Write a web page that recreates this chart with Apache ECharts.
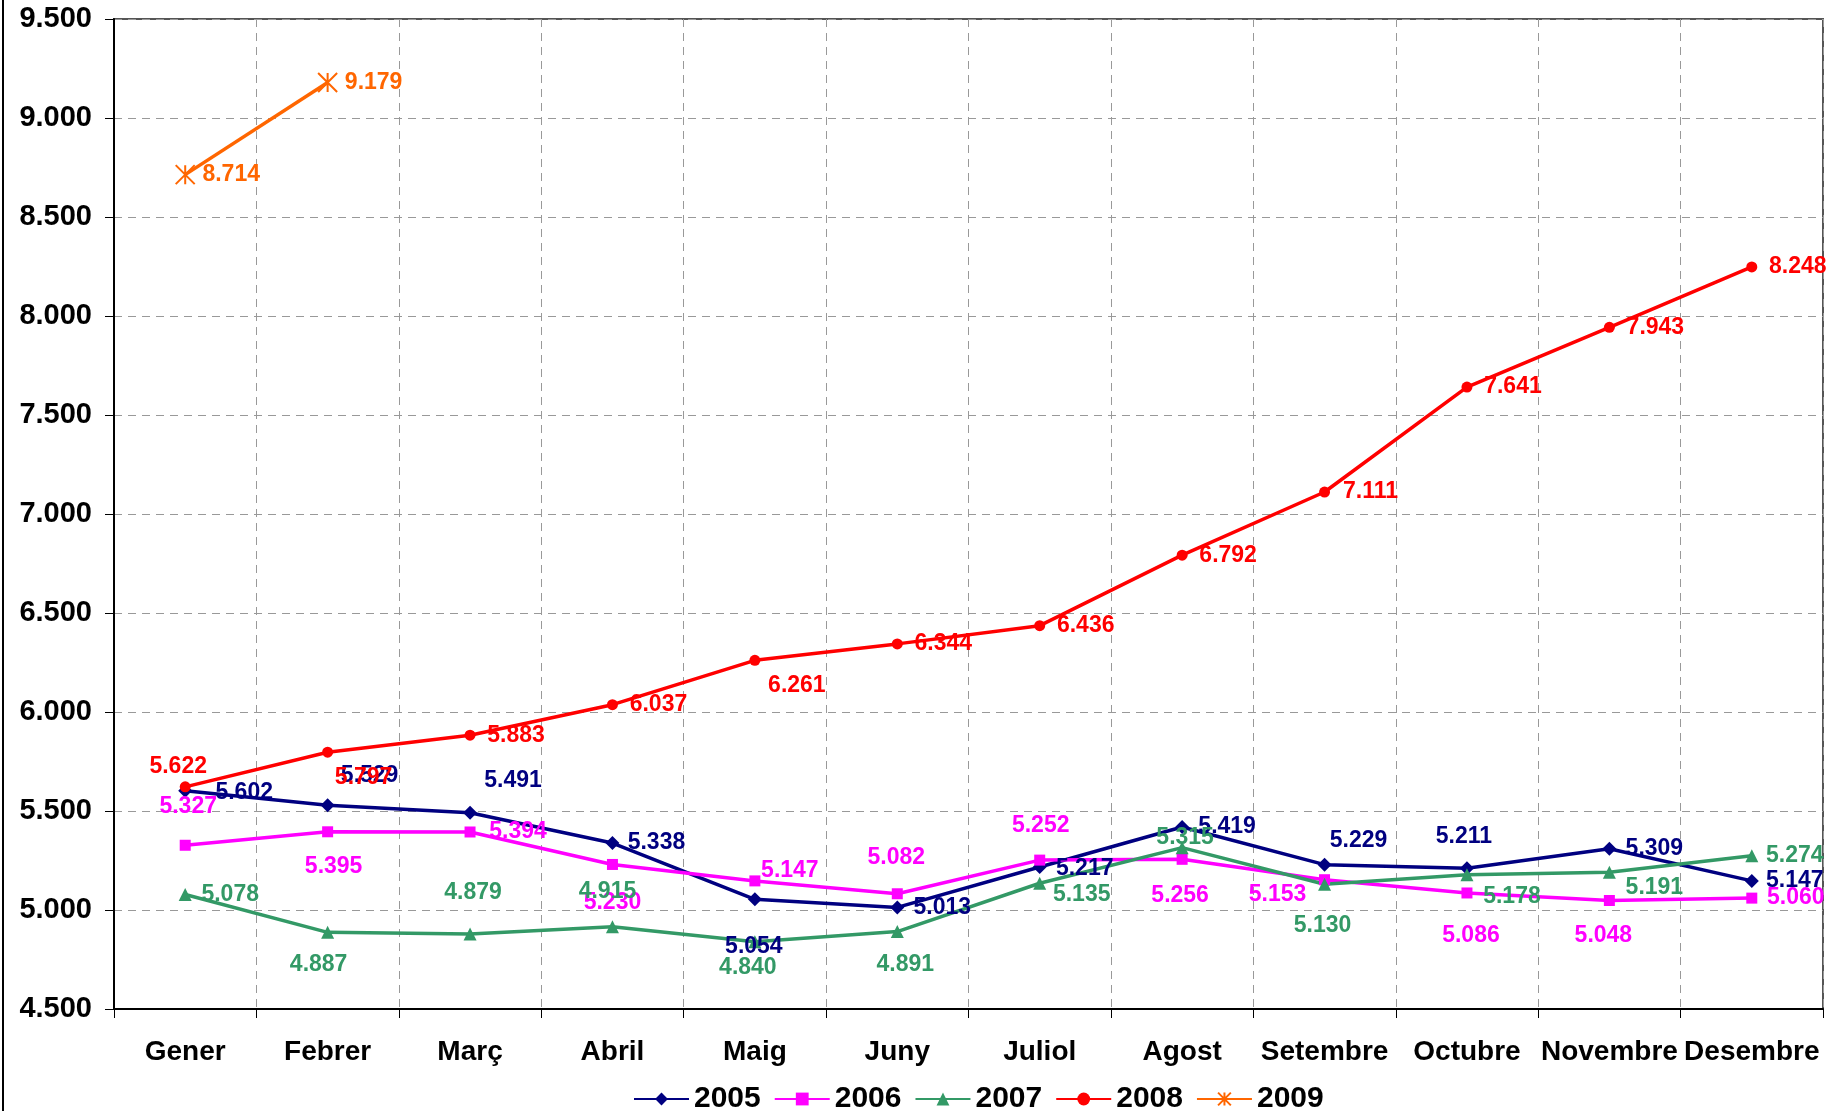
<!DOCTYPE html>
<html>
<head>
<meta charset="utf-8">
<title>Evolució mensual</title>
<script src="https://cdn.jsdelivr.net/npm/echarts@6/dist/echarts.min.js"></script>
<style>
html, body { margin: 0; padding: 0; background: #fff; }
#chart { width: 1841px; height: 1111px; }
</style>
</head>
<body>
<div id="chart"></div>
<script>
// mesos
var months = ['Gener', 'Febrer', 'Març', 'Abril', 'Maig', 'Juny', 'Juliol', 'Agost', 'Setembre', 'Octubre', 'Novembre', 'Desembre'];
var years = ['2005', '2006', '2007', '2008', '2009'];

// valors
var v2005 = [5602, 5529, 5491, 5338, 5054, 5013, 5217, 5419, 5229, 5211, 5309, 5147];
var v2006 = [5327, 5395, 5394, 5230, 5147, 5082, 5252, 5256, 5153, 5086, 5048, 5060];
var v2007 = [5078, 4887, 4879, 4915, 4840, 4891, 5135, 5315, 5130, 5178, 5191, 5274];
var v2008 = [5622, 5797, 5883, 6037, 6261, 6344, 6436, 6792, 7111, 7641, 7943, 8248];
var v2009 = [8714, 9179];

// eix Y
var yMin = 4500, yMax = 9500, yStep = 500;

// desplaçament de les etiquetes (px respecte al punt)
var off2005 = [[59, 2], [42, -30], [43, -32], [44, 0], [-1, 47], [45, 0], [45, 2], [45, 0], [34, -24], [-3, -32], [45, 0], [43, 0]];
var off2006 = [[3, -39], [6, 35], [48, 0], [0, 38], [35, -10], [-1, -36], [1, -34], [-2, 36], [-47, 15], [4, 43], [-6, 35], [44, 0]];
var off2007 = [[45, 0], [-9, 32], [3, -41], [-5, -35], [-7, 26], [8, 33], [42, 11], [3, -10], [-2, 41], [45, 22], [45, 15], [43, 0]];
var off2008 = [[-7, -20], [36, 25], [46, 0], [46, 0], [42, 25], [46, 0], [46, 0], [46, 0], [46, 0], [46, 0], [46, 0], [46, 0]];
var off2009 = [[46, 0], [46, 0]];

var font = '"Liberation Sans", Arial, sans-serif';

function fmt(v) {
	return (v / 1000).toFixed(3);
}

function mk(name, vals, offs, color, symbol, size, extra) {
	var s = {
		name: name,
		type: 'line',
		symbol: symbol,
		symbolSize: size,
		lineStyle: { color: color, width: 3.5 },
		itemStyle: { color: color },
		data: vals.map(function (v, i) {
			return {
				value: v,
				label: { offset: offs[i] }
			};
		}),
		label: {
			show: true,
			position: 'inside',
			color: color,
			textBorderWidth: 0,
			fontFamily: font,
			fontWeight: 'bold',
			fontSize: 23,
			formatter: function (p) { return fmt(p.value); }
		},
		emphasis: { disabled: true }
	};
	if (extra) {
		for (var k in extra) s[k] = extra[k];
	}
	return s;
}

var chart = echarts.init(document.getElementById('chart'));
var option = {
	animation: false,
	backgroundColor: '#fff',
	graphic: [
		{ type: 'line', shape: { x1: 3, y1: 0, x2: 3, y2: 1111 }, style: { stroke: '#000', lineWidth: 2 } }
	],
	grid: {
		left: 114,
		right: 18,
		top: 19,
		bottom: 102,
		show: true,
		borderColor: '#555',
		borderWidth: 2
	},
	legend: {
		data: years,
		left: 628,
		top: 1079,
		itemWidth: 55,
		itemHeight: 16,
		itemGap: 13,
		textStyle: { fontFamily: font, fontWeight: 'bold', fontSize: 30, color: '#000' }
	},
	xAxis: {
		type: 'category',
		data: months,
		boundaryGap: true,
		axisLine: { lineStyle: { color: '#000', width: 2 } },
		axisTick: { show: true, length: 9, lineStyle: { color: '#000' } },
		axisLabel: { margin: 29, color: '#000', fontFamily: font, fontWeight: 'bold', fontSize: 28, interval: 0 },
		splitLine: { show: true, lineStyle: { color: '#999', type: [8, 6], width: 1 } }
	},
	yAxis: {
		type: 'value',
		min: yMin,
		max: yMax,
		interval: yStep,
		axisLine: { show: true, lineStyle: { color: '#000', width: 2 } },
		axisTick: { show: true, length: 9, lineStyle: { color: '#000' } },
		axisLabel: {
			margin: 22,
			color: '#000',
			fontFamily: font,
			fontWeight: 'bold',
			fontSize: 29,
			formatter: fmt
		},
		splitLine: { show: true, lineStyle: { color: '#999', type: [8, 6], width: 1 } }
	},
	series: [
		mk('2005', v2005, off2005, '#000080', 'diamond', 14),
		mk('2006', v2006, off2006, '#FF00FF', 'rect', 11),
		mk('2007', v2007, off2007, '#339966', 'triangle', 13),
		mk('2008', v2008, off2008, '#FF0000', 'circle', 11),
		mk('2009', v2009, off2009, '#FF6600', 'path://M0,0L10,10M10,0L0,10M5,0L5,10', 19, {
			itemStyle: { color: 'none', borderColor: '#FF6600', borderWidth: 2 }
		})
	]
};
chart.setOption(option);
window.addEventListener('resize', chart.resize);
</script>
</body>
</html>
